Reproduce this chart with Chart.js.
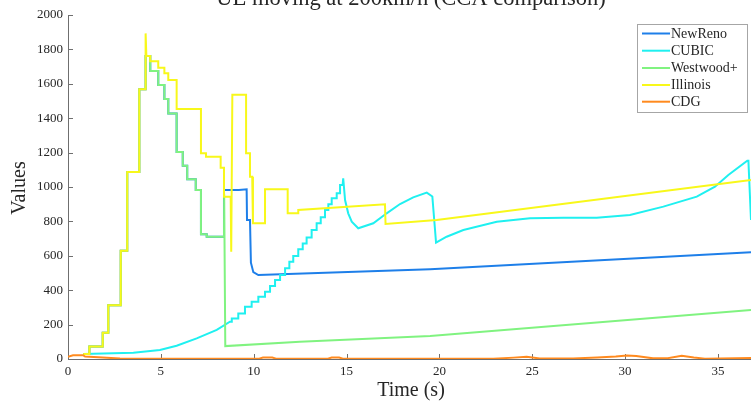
<!DOCTYPE html>
<html><head><meta charset="utf-8">
<script src="https://cdn.jsdelivr.net/npm/chart.js@4"></script>
<style>html,body{margin:0;padding:0;background:#fff;overflow:hidden}canvas{display:block}</style>
</head><body>
<canvas id="c" width="751" height="401"></canvas>
<script>
const titleText = 'UE moving at 200km/h (CCA comparison)';
const xTitle = 'Time (s)';
const yTitle = 'Values';
const seriesNames = ['NewReno', 'CUBIC', 'Westwood+', 'Illinois', 'CDG'];
const seriesColors = ['#1E7FE9', '#1FF0F0', '#80F380', '#F8F81A', '#FF8A1E'];
const xTicks = [0, 5, 10, 15, 20, 25, 30, 35];
const yTicks = [0, 200, 400, 600, 800, 1000, 1200, 1400, 1600, 1800, 2000];
const xRange = [0, 36.78];
const yRange = [0, 2000];

const newReno = [[0.82,29],[1.15,29],[1.15,72],[1.87,72],[1.87,153],[2.17,153],[2.17,312],[2.84,312],[2.84,630],[3.19,630],[3.19,1087],[3.84,1087],[3.84,1568],[4.18,1568],[4.18,1762],[4.43,1762],[4.43,1674],[4.86,1674],[4.86,1593],[5.19,1593],[5.19,1512],[5.40,1512],[5.40,1428],[5.85,1428],[5.85,1203],[6.18,1203],[6.18,1124],[6.42,1124],[6.42,1045],[6.88,1045],[6.88,983],[7.16,983],[7.16,725],[7.47,725],[7.47,711],[8.40,711],[8.40,983],[9.20,983],[9.62,987],[9.64,808],[9.80,808],[9.85,560],[9.98,505],[10.25,488],[19.5,522],[36.78,620]];

const cubic = [[0.82,29],[3.52,37],[4.95,52],[5.85,77],[6.93,120],[8.01,169],[8.72,217],[8.82,217],[8.82,236],[9.17,236],[9.17,265],[9.53,265],[9.53,304],[9.89,304],[9.89,333],[10.25,333],[10.25,362],[10.61,362],[10.61,391],[10.88,391],[10.88,424],[11.15,424],[11.15,459],[11.42,459],[11.42,488],[11.69,488],[11.69,527],[11.92,527],[11.92,566],[12.13,566],[12.13,599],[12.40,599],[12.40,638],[12.64,638],[12.64,672],[12.85,672],[12.85,707],[13.12,707],[13.12,750],[13.39,750],[13.39,789],[13.61,789],[13.61,824],[13.84,824],[13.84,866],[14.02,866],[14.02,899],[14.20,899],[14.20,934],[14.47,934],[14.47,963],[14.65,963],[14.65,1012],[14.79,1012],[14.82,1050],[14.92,924],[15.09,847],[15.28,798],[15.63,760],[16.44,789],[17.16,847],[17.88,901],[18.59,940],[19.32,967],[19.62,945],[19.82,676],[20.39,711],[21.29,750],[23.09,798],[24.88,818],[26.67,821],[28.47,821],[30.26,837],[32.06,886],[33.86,944],[34.84,1002],[35.56,1070],[36.58,1153],[36.64,1153],[36.78,808]];

const westwood = [[0.82,29],[1.15,29],[1.15,72],[1.87,72],[1.87,153],[2.17,153],[2.17,312],[2.84,312],[2.84,630],[3.19,630],[3.19,1087],[3.84,1087],[3.84,1568],[4.18,1568],[4.18,1762],[4.43,1762],[4.43,1674],[4.86,1674],[4.86,1593],[5.19,1593],[5.19,1512],[5.40,1512],[5.40,1428],[5.85,1428],[5.85,1203],[6.18,1203],[6.18,1124],[6.42,1124],[6.42,1045],[6.88,1045],[6.88,983],[7.16,983],[7.16,725],[7.47,725],[7.47,711],[8.40,711],[8.41,960],[8.45,960],[8.47,75],[12.49,101],[19.5,134],[36.78,285]];

const illinois = [[0.82,29],[1.15,29],[1.15,72],[1.87,72],[1.87,153],[2.17,153],[2.17,312],[2.84,312],[2.84,630],[3.19,630],[3.19,1087],[3.84,1087],[3.84,1568],[4.18,1568],[4.18,1893],[4.22,1762],[4.43,1762],[4.43,1731],[4.86,1731],[4.86,1694],[5.19,1694],[5.19,1661],[5.40,1661],[5.40,1622],[5.85,1622],[5.85,1453],[7.16,1453],[7.16,1196],[7.43,1196],[7.43,1176],[8.22,1176],[8.22,1112],[8.40,1112],[8.40,944],[8.76,944],[8.79,624],[8.85,1537],[9.59,1537],[9.59,1196],[9.80,1196],[9.80,1060],[9.92,1060],[9.96,789],[10.61,789],[10.61,987],[11.83,987],[11.83,847],[12.40,847],[12.40,866],[17.07,899],[17.10,785],[19.85,808],[36.78,1041]];

const cdg = [[0,13],[0.27,22],[0.81,22],[0.92,14],[2.8,3],[5,2],[10.3,2],[10.5,9],[11,9],[11.2,2],[14.0,2],[14.2,9],[14.6,9],[14.8,2],[22.9,2],[24.0,8],[24.7,13],[25.4,3],[27.2,3],[28.5,9],[29.5,14],[30.1,21],[30.6,17],[31.5,4],[32.3,5],[33.05,19],[33.7,9],[34.3,2],[36.78,6]];

const seriesData = [newReno, cubic, westwood, illinois, cdg];
const FONT = '"Liberation Serif", "Times New Roman", serif';
const AXIS = '#6f6f6f';
const TEXT = '#262626';

const overlay = {
  id: 'overlay',
  beforeDatasetsDraw(chart) {
    const ctx = chart.ctx, a = chart.chartArea, xs = chart.scales.x, ys = chart.scales.y;
    ctx.save();
    ctx.strokeStyle = AXIS; ctx.lineWidth = 1;
    ctx.beginPath();
    xs.ticks.forEach(t => { const x = Math.round(xs.getPixelForValue(t.value)) + 0.5; ctx.moveTo(x, a.bottom); ctx.lineTo(x, a.bottom - 5); });
    ys.ticks.forEach(t => { const y = Math.round(ys.getPixelForValue(t.value)) + 0.5; ctx.moveTo(a.left, y); ctx.lineTo(a.left + 5, y); });
    ctx.stroke();
    ctx.restore();
  },
  afterDraw(chart) {
    const ctx = chart.ctx;
    ctx.save();
    ctx.fillStyle = TEXT;
    ctx.textAlign = 'center';
    ctx.textBaseline = 'alphabetic';
    ctx.font = '22.5px ' + FONT;
    ctx.fillText(titleText, 411, 5);
    ctx.font = '20px ' + FONT;
    ctx.textBaseline = 'middle';
    ctx.fillText(xTitle, 411, 391);
    ctx.translate(20, 188);
    ctx.rotate(-Math.PI / 2);
    ctx.fillText(yTitle, 0, 0);
    ctx.restore();

    // legend
    ctx.save();
    const bx = 637.5, by = 24.5, bw = 110, bh = 88;
    ctx.fillStyle = '#ffffff';
    ctx.fillRect(bx, by, bw, bh);
    ctx.strokeStyle = '#a6a6a6'; ctx.lineWidth = 1;
    ctx.strokeRect(bx, by, bw, bh);
    const rows = [33.5, 50.7, 68, 85, 101.7];
    ctx.font = '14px ' + FONT;
    ctx.textAlign = 'left'; ctx.textBaseline = 'middle';
    seriesNames.forEach((n, i) => {
      ctx.strokeStyle = seriesColors[i]; ctx.lineWidth = 2;
      ctx.beginPath(); ctx.moveTo(642, rows[i]); ctx.lineTo(670, rows[i]); ctx.stroke();
      ctx.fillStyle = TEXT;
      ctx.fillText(n, 671, rows[i] + 0.5);
    });
    ctx.restore();
  }
};

const orders = [5, 4, 3, 2, 1];
new Chart(document.getElementById('c'), {
  type: 'line',
  data: {
    datasets: seriesNames.map((n, i) => ({
      label: n,
      data: seriesData[i].map(p => ({ x: p[0], y: p[1] })),
      borderColor: seriesColors[i],
      backgroundColor: seriesColors[i],
      borderWidth: 2,
      pointRadius: 0,
      tension: 0,
      fill: false,
      order: orders[i]
    }))
  },
  options: {
    responsive: false,
    animation: false,
    devicePixelRatio: 1,
    layout: { padding: { top: 15, left: 0, right: 0, bottom: 0 } },
    plugins: { legend: { display: false }, title: { display: false }, tooltip: { enabled: false } },
    scales: {
      x: {
        type: 'linear', min: xRange[0], max: xRange[1],
        afterBuildTicks: s => { s.ticks = xTicks.map(v => ({ value: v })); },
        afterFit: s => { s.height = 42; },
        grid: { display: false, drawTicks: false },
        border: { display: true, color: AXIS, width: 1 },
        ticks: { padding: 5, color: TEXT, font: { family: FONT, size: 13 }, maxRotation: 0, autoSkip: false, callback: v => String(v) }
      },
      y: {
        type: 'linear', min: yRange[0], max: yRange[1],
        afterBuildTicks: s => { s.ticks = yTicks.map(v => ({ value: v })); },
        afterFit: s => { s.width = 68; },
        grid: { display: false, drawTicks: false },
        border: { display: true, color: AXIS, width: 1 },
        ticks: { padding: 5, color: TEXT, font: { family: FONT, size: 13 }, autoSkip: false, callback: v => String(v) }
      }
    }
  },
  plugins: [overlay]
});
</script>
</body></html>
